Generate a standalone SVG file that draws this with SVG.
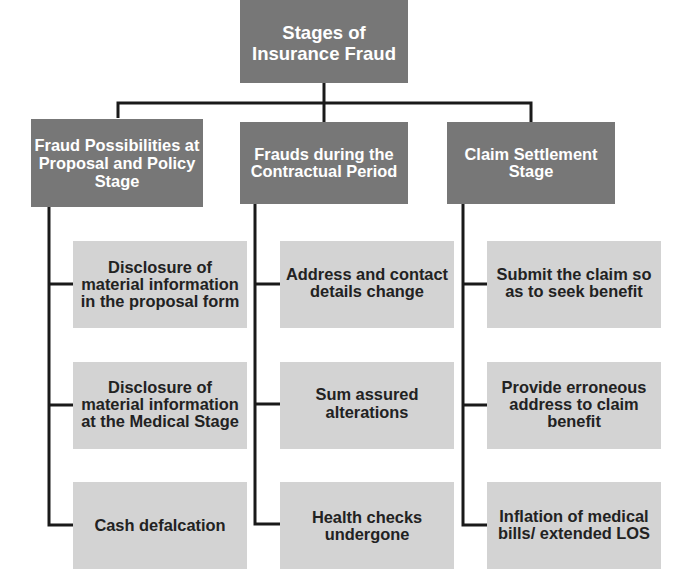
<svg xmlns="http://www.w3.org/2000/svg" width="674" height="586" viewBox="0 0 674 586">
<style>
.dark{fill:#777777}
.light{fill:#d3d3d3}
.ln{fill:none;stroke:#1a1a1a;stroke-width:3}
text{font-family:"Liberation Sans",Arial,sans-serif;font-weight:bold;text-anchor:middle}
.wt{fill:#ffffff;font-size:16.4px}
.bt{fill:#222222;font-size:16.4px}
.tt{fill:#ffffff;font-size:18.5px}
</style>
<rect width="674" height="586" fill="#ffffff"/>
<g id="connectors">
<path class="ln" d="M324 83V122"/>
<path class="ln" d="M118 118V103H531V122"/>
<path class="ln" d="M49 207V525H73M49 284H73M49 405H73"/>
<path class="ln" d="M255 204V524H280M255 284H280M255 404H280"/>
<path class="ln" d="M463 204V525H487M463 284H487M463 405H487"/>
</g>
<g id="root">
<rect class="dark" x="240" y="0" width="168" height="83"/>
<text class="tt" x="324" y="39">Stages of</text>
<text class="tt" x="324" y="60">Insurance Fraud</text>
</g>
<g id="stage1">
<rect class="dark" x="31" y="119" width="172" height="88"/>
<text class="wt" x="117" y="151">Fraud Possibilities at</text>
<text class="wt" x="117" y="169">Proposal and Policy</text>
<text class="wt" x="117" y="187">Stage</text>
</g>
<g id="stage2">
<rect class="dark" x="240" y="122" width="168" height="82"/>
<text class="wt" x="324" y="160">Frauds during the</text>
<text class="wt" x="324" y="177">Contractual Period</text>
</g>
<g id="stage3">
<rect class="dark" x="447" y="122" width="168" height="82"/>
<text class="wt" x="531" y="160">Claim Settlement</text>
<text class="wt" x="531" y="177">Stage</text>
</g>
<g id="s1c1">
<rect class="light" x="73" y="241" width="174" height="87"/>
<text class="bt" x="160" y="273">Disclosure of</text>
<text class="bt" x="160" y="290">material information</text>
<text class="bt" x="160" y="307">in the proposal form</text>
</g>
<g id="s1c2">
<rect class="light" x="73" y="362" width="174" height="87"/>
<text class="bt" x="160" y="393">Disclosure of</text>
<text class="bt" x="160" y="410">material information</text>
<text class="bt" x="160" y="427">at the Medical Stage</text>
</g>
<g id="s1c3">
<rect class="light" x="73" y="482" width="174" height="87"/>
<text class="bt" x="160" y="531">Cash defalcation</text>
</g>
<g id="s2c1">
<rect class="light" x="280" y="241" width="174" height="87"/>
<text class="bt" x="367" y="280">Address and contact</text>
<text class="bt" x="367" y="297">details change</text>
</g>
<g id="s2c2">
<rect class="light" x="280" y="362" width="174" height="87"/>
<text class="bt" x="367" y="400">Sum assured</text>
<text class="bt" x="367" y="418">alterations</text>
</g>
<g id="s2c3">
<rect class="light" x="280" y="482" width="174" height="87"/>
<text class="bt" x="367" y="523">Health checks</text>
<text class="bt" x="367" y="540">undergone</text>
</g>
<g id="s3c1">
<rect class="light" x="487" y="241" width="174" height="87"/>
<text class="bt" x="574" y="280">Submit the claim so</text>
<text class="bt" x="574" y="297">as to seek benefit</text>
</g>
<g id="s3c2">
<rect class="light" x="487" y="362" width="174" height="87"/>
<text class="bt" x="574" y="393">Provide erroneous</text>
<text class="bt" x="574" y="410">address to claim</text>
<text class="bt" x="574" y="427">benefit</text>
</g>
<g id="s3c3">
<rect class="light" x="487" y="482" width="174" height="87"/>
<text class="bt" x="574" y="522">Inflation of medical</text>
<text class="bt" x="574" y="539">bills/ extended LOS</text>
</g>
</svg>
